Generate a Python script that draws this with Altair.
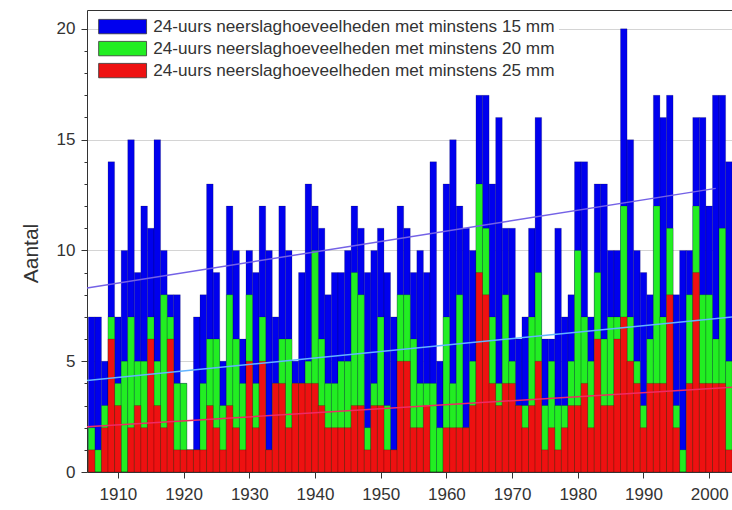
import altair as alt
import pandas as pd

years = list(range(1906, 2004))

n15 = [7, 7, 5, 14, 7, 10, 15, 9, 12, 11, 15, 10, 8, 8, 4, 1, 7, 8, 13, 9,
       5, 12, 10, 6, 10, 9, 12, 10, 7, 12, 10, 5, 9, 13, 12, 11, 8, 9, 9, 10,
       12, 11, 9, 10, 11, 9, 7, 12, 11, 9, 10, 9, 14, 5, 13, 15, 12, 11, 10, 17,
       17, 13, 16, 11, 11, 6, 7, 11, 16, 6, 6, 11, 7, 8, 14, 14, 7, 13, 13, 10,
       10, 20, 15, 10, 9, 8, 17, 16, 17, 8, 10, 10, 16, 16, 12, 17, 17, 14]
n20 = [2, 1, 3, 7, 4, 5, 7, 5, 5, 7, 5, 8, 7, 4, 4, 1, 1, 4, 6, 6,
       3, 8, 6, 4, 8, 4, 7, 1, 4, 6, 6, 4, 4, 5, 10, 6, 4, 4, 5, 5,
       9, 8, 2, 4, 7, 3, 1, 8, 8, 6, 4, 4, 4, 2, 7, 4, 8, 2, 5, 13,
       11, 7, 4, 8, 5, 3, 3, 7, 9, 3, 5, 3, 3, 5, 10, 7, 5, 9, 6, 7,
       7, 12, 7, 5, 3, 6, 12, 7, 11, 3, 1, 8, 12, 8, 8, 6, 11, 5]
n25 = [1, 0, 2, 6, 3, 0, 2, 3, 2, 6, 3, 2, 6, 1, 1, 1, 1, 1, 3, 2,
       1, 3, 2, 1, 5, 2, 5, 1, 4, 4, 2, 4, 4, 4, 4, 3, 2, 2, 2, 2,
       3, 3, 1, 3, 3, 1, 1, 5, 5, 2, 2, 3, 0, 0, 2, 2, 2, 2, 3, 9,
       8, 4, 3, 4, 4, 3, 2, 3, 5, 1, 2, 1, 2, 3, 3, 4, 2, 6, 3, 3,
       6, 7, 5, 4, 2, 4, 4, 4, 8, 2, 0, 4, 9, 4, 4, 4, 4, 1]

series_names = [
    "24-uurs neerslaghoeveelheden met minstens 15 mm",
    "24-uurs neerslaghoeveelheden met minstens 20 mm",
    "24-uurs neerslaghoeveelheden met minstens 25 mm",
]
bar_colors = ["#0000ee", "#22ee22", "#ee1111"]

# trend lines (start / end)
trend15_x = [1905.3, 2001.0]
trend15_y = [8.3, 12.8]
trend20_x = [1905.3, 2003.5]
trend20_y = [4.13, 7.0]
trend25_x = [1905.3, 2003.5]
trend25_y = [2.04, 3.83]
trend_colors = ["#7462e6", "#62b4ff", "#ee2a66"]

x_ticks = list(range(1910, 2001, 10))
y_ticks = list(range(0, 21))
y_labels = [0, 5, 10, 15, 20]

rows = []
for name, vals in zip(series_names, [n15, n20, n25]):
    for yr, v in zip(years, vals):
        rows.append({"jaar": yr, "aantal": v, "reeks": name})
df = pd.DataFrame(rows)

FONT = "Liberation Sans"
xscale = alt.Scale(domain=[1905.3, 2003.47], nice=False, zero=False)
yscale = alt.Scale(domain=[0, 20.85], nice=False, zero=True)

label_test = "indexof(" + str(y_labels) + ", datum.value) >= 0"

y_axis = alt.Axis(
    values=y_ticks,
    labelExpr=label_test + " ? datum.label : ''",
    labelOverlap=False,
    labelBound=False,
    tickSize={"condition": {"test": label_test, "value": 6}, "value": 3},
    gridOpacity={"condition": {"test": label_test + " && datum.value > 0", "value": 1}, "value": 0},
    gridColor="#d4d4d4", grid=True,
    tickColor="#333", domainColor="#333",
    labelFont=FONT, labelFontSize=17, labelColor="#333", labelPadding=6,
    title="Aantal", titleFont=FONT, titleFontSize=21, titleFontWeight="normal",
    titleColor="#333", titleX=-56, titleY=243, titleBaseline="middle",
    titleAngle=270, titleAlign="center",
)

bars = (
    alt.Chart(df)
    .transform_calculate(x0="datum.jaar - 0.5", x1="datum.jaar + 0.5")
    .mark_bar(clip=True, stroke="#000000", strokeOpacity=0.3, strokeWidth=0.6)
    .encode(
        x=alt.X(
            "x0:Q",
            scale=xscale,
            axis=alt.Axis(
                values=x_ticks, format="d", title=None, grid=False,
                tickSize=6, tickColor="#333", domainColor="#333",
                labelFont=FONT, labelFontSize=17, labelColor="#333",
                labelPadding=8, labelFlush=False,
            ),
        ),
        x2="x1:Q",
        y=alt.Y("aantal:Q", scale=yscale, stack=None, axis=y_axis),
        y2=alt.datum(0),
        color=alt.Color(
            "reeks:N",
            scale=alt.Scale(domain=series_names, range=bar_colors),
            legend=alt.Legend(
                title=None, orient="none", legendX=23, legendY=4,
                fillColor="white", padding=4,
                symbolType="M-3.33,-1L3.33,-1L3.33,1L-3.33,1Z", symbolSize=207,
                symbolStrokeColor="#333", symbolStrokeWidth=0.8, symbolOpacity=1,
                labelFont=FONT, labelFontSize=17.2, labelColor="#333",
                labelOffset=22, labelLimit=0, rowPadding=3,
            ),
        ),
    )
)

def trend(xs, ys, col, top_axis=False):
    d = pd.DataFrame({"x": xs, "y": ys})
    if top_axis:
        xenc = alt.X("x:Q", scale=xscale, axis=alt.Axis(
            orient="top", labels=False, ticks=False, grid=False,
            title=None, domainColor="#333"))
    else:
        xenc = alt.X("x:Q", scale=xscale, axis=None)
    return (
        alt.Chart(d)
        .mark_line(color=col, strokeWidth=1.5, clip=True)
        .encode(x=xenc, y=alt.Y("y:Q", scale=yscale, axis=y_axis))
    )

chart = (
    alt.layer(
        bars,
        trend(trend15_x, trend15_y, trend_colors[0], top_axis=True),
        trend(trend20_x, trend20_y, trend_colors[1]),
        trend(trend25_x, trend25_y, trend_colors[2]),
    )
    .resolve_axis(x="independent")
    .properties(
        width=645, height=462,
        autosize=alt.AutoSizeParams(type="none"),
        padding={"left": 87, "top": 10, "right": 0, "bottom": 38},
        background="white",
    )
    .configure_view(stroke=None)
)

chart.save("out.html", embed_options={"renderer": "svg", "actions": False})
